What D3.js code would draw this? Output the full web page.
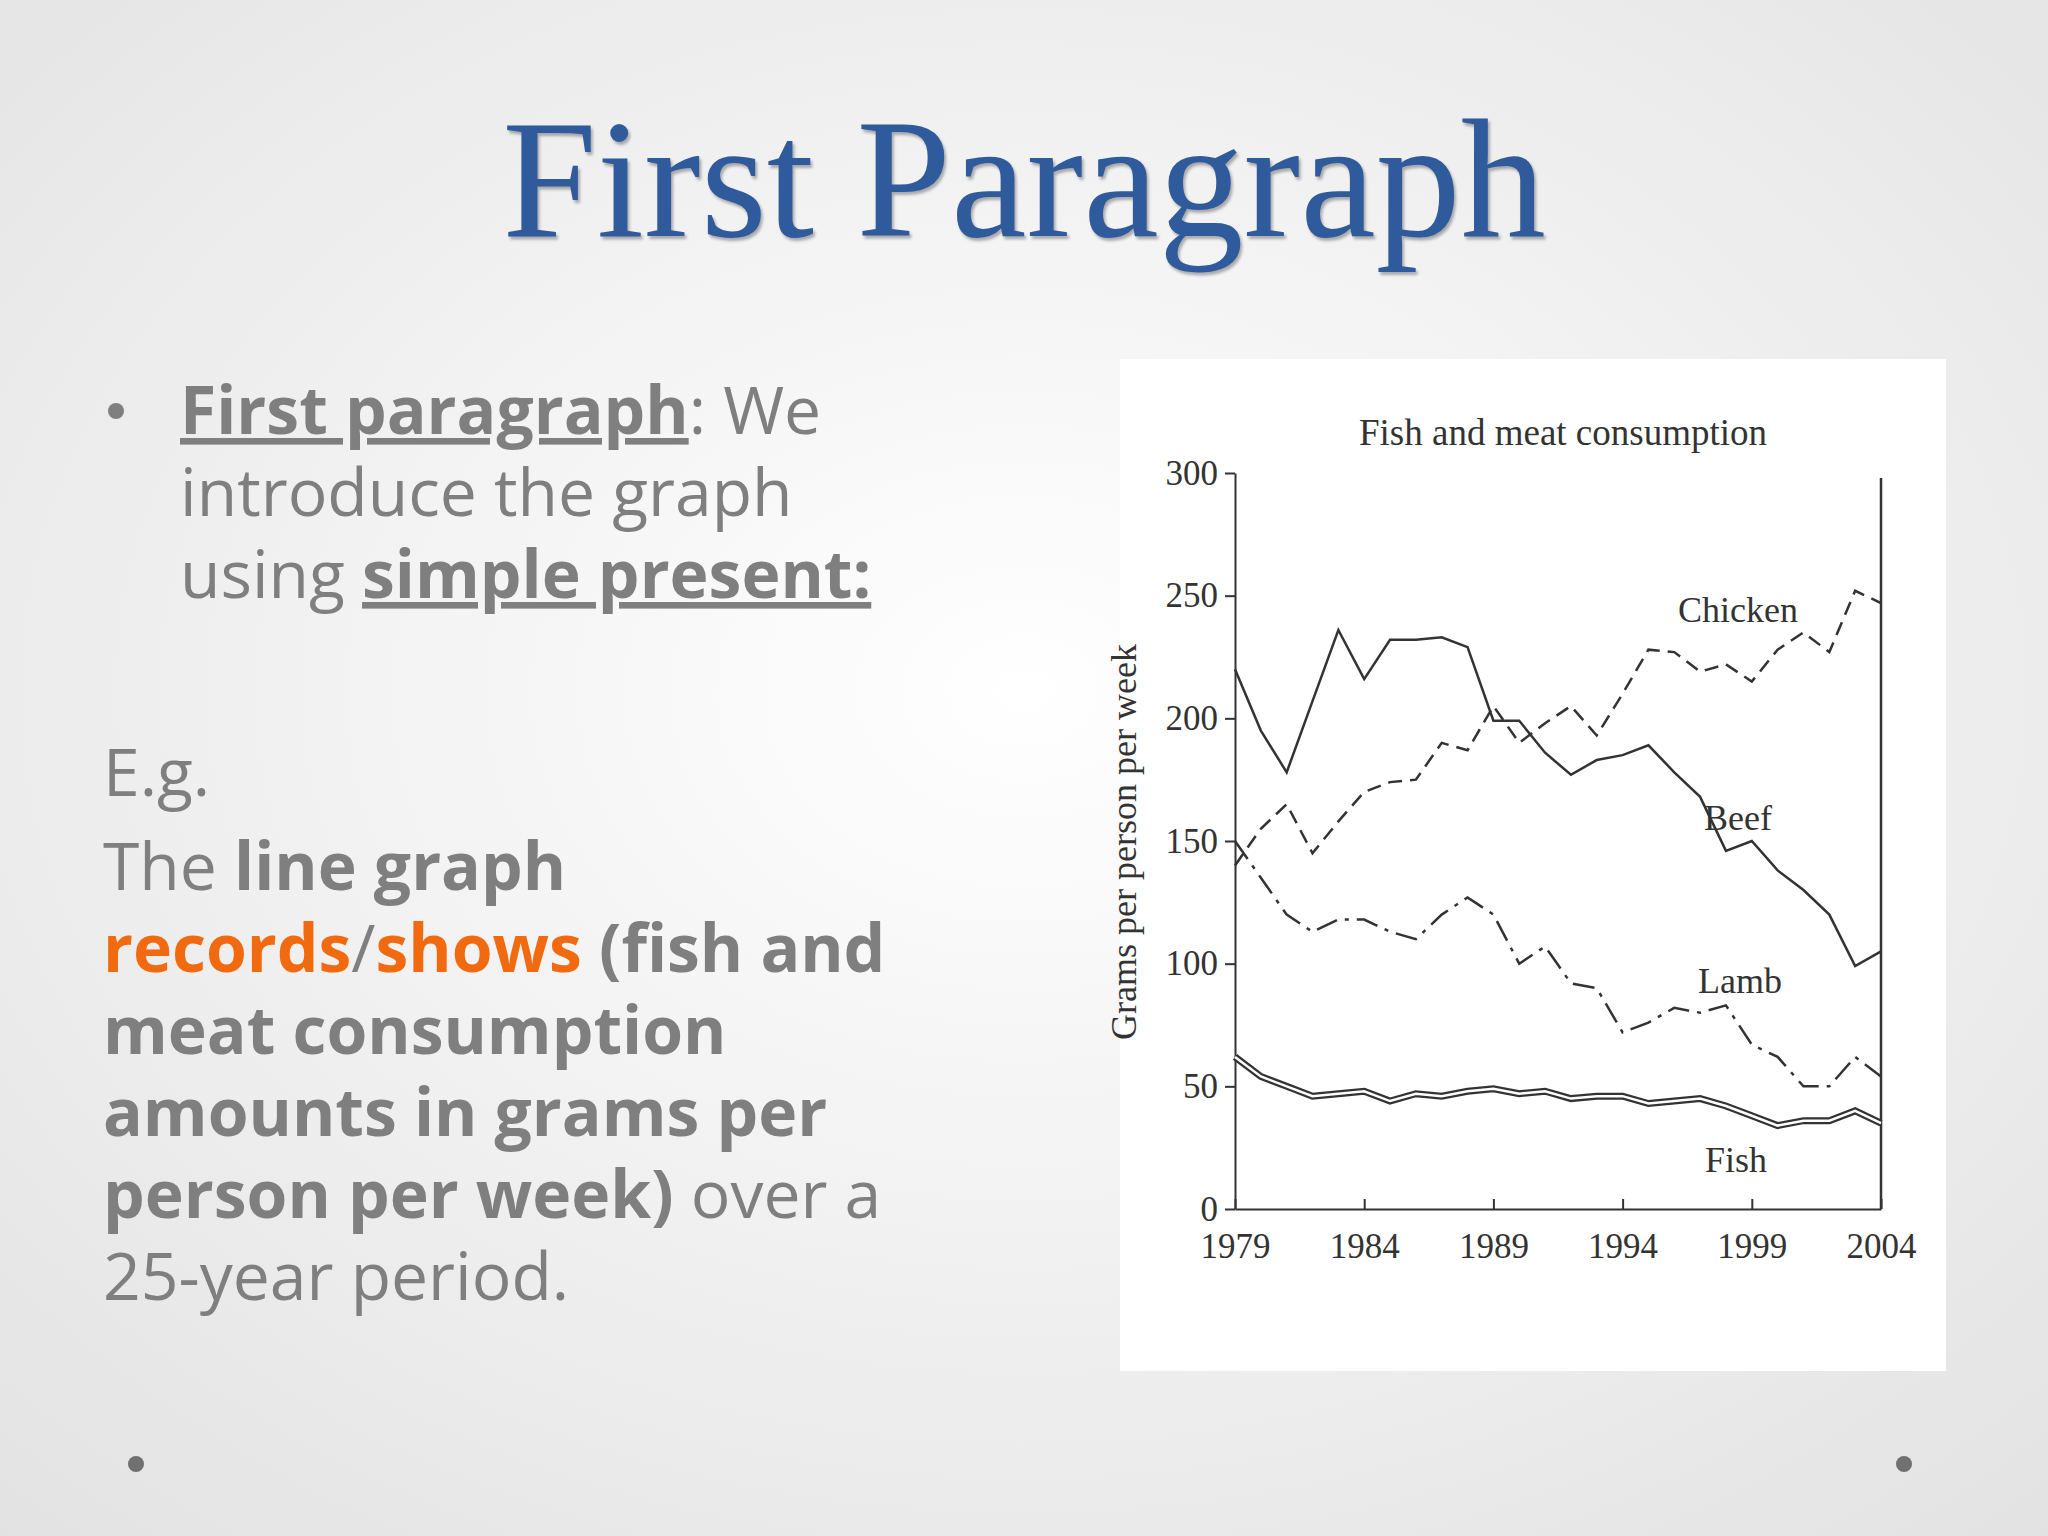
<!DOCTYPE html><html><head><meta charset="utf-8">
<script src="https://cdn.jsdelivr.net/npm/d3@7"></script>
<style>body{margin:0;overflow:hidden}</style></head><body>
<script>
const years=d3.range(1979,2005);
const beef=[220,195,178,207,236,216,232,232,233,229,199,199,186,177,183,185,189,178,168,146,150,138,130,120,99,105];
const chicken=[140,155,165,145,158,170,174,175,190,187,205,190,198,205,193,210,228,227,219,222,215,228,235,227,252,247];
const lamb=[150,135,120,113,118,118,113,110,120,127,120,100,107,92,90,72,76,82,80,83,67,62,50,50,62,54];
const fish=[62,54,50,46,47,48,44,47,46,48,49,47,48,45,46,46,43,44,45,42,38,34,36,36,40,35];
const yTicks=[0,50,100,150,200,250,300];
const xTicks=[1979,1984,1989,1994,1999,2004];

const W=2048,H=1536;
const svg=d3.select("body").append("svg").attr("width",W).attr("height",H);
const defs=svg.append("defs");
const g=defs.append("radialGradient").attr("id","bg").attr("cx","50%").attr("cy","45%").attr("r","75%");
g.append("stop").attr("offset","0%").attr("stop-color","#ffffff");
g.append("stop").attr("offset","100%").attr("stop-color","#e2e2e2");
svg.append("rect").attr("width",W).attr("height",H).attr("fill","url(#bg)");

svg.append("text").attr("x",1024).attr("y",236).attr("text-anchor","middle")
 .attr("font-family","Liberation Serif").attr("font-size",170).attr("fill","#2f5b9c")
 .style("text-shadow","2px 3px 3px rgba(0,0,0,0.3)").text("First Paragraph");

const lf="Open Sans";
function line(y,parts,x){const t=svg.append("text").attr("x",x).attr("y",y).attr("font-family",lf).attr("font-size",66).attr("fill","#7f7f7f");
 parts.forEach(p=>{const s=t.append("tspan").text(p[0]);if(p[1])s.attr("font-weight","bold");if(p[2])s.attr("text-decoration","underline");if(p[3])s.attr("fill",p[3]);});}
svg.append("circle").attr("cx",116).attr("cy",411).attr("r",8).attr("fill","#7f7f7f");
line(434,[["First paragraph",1,1],[": We"]],180);
line(516,[["introduce the graph"]],180);
line(598,[["using "],["simple present:",1,1]],180);
line(796,[["E.g."]],103);
line(890,[["The "],["line graph",1]],103);
line(972,[["records",1,0,"#f26a10"],["/"],["shows",1,0,"#f26a10"],[" (fish and",1]],103);
line(1054,[["meat consumption",1]],103);
line(1136,[["amounts in grams per",1]],103);
line(1218,[["person per week)",1],[" over a"]],103);
line(1300,[["25-year period."]],103);
[136,1904].forEach(x=>svg.append("circle").attr("cx",x).attr("cy",1464).attr("r",8).attr("fill","#707070"));

svg.append("rect").attr("x",1120).attr("y",359).attr("width",826).attr("height",1012).attr("fill","#fff");
const x=d3.scaleLinear().domain([1979,2004]).range([1235,1881]);
const y=d3.scaleLinear().domain([0,300]).range([1209,473]);
const ink="#333",tf="Liberation Serif";
const ya=svg.append("g").attr("transform","translate(1235,0)").call(d3.axisLeft(y).tickValues(yTicks).tickSize(10).tickSizeOuter(0));
const xa=svg.append("g").attr("transform","translate(0,1209)").call(d3.axisBottom(x).tickValues(xTicks).tickFormat(d3.format("d")).tickSize(-10).tickSizeOuter(0));
[ya,xa].forEach(a=>{a.selectAll("path,line").attr("stroke",ink).attr("stroke-width",2);a.selectAll("text").attr("font-family",tf).attr("font-size",35).attr("fill",ink);});
ya.selectAll("text").attr("dx",-4);
xa.selectAll("text").attr("dy",46);
svg.append("line").attr("x1",x(2004)).attr("x2",x(2004)).attr("y1",y(298)).attr("y2",y(0)).attr("stroke",ink).attr("stroke-width",2.5);
svg.append("text").attr("x",1563).attr("y",445).attr("text-anchor","middle").attr("font-family",tf).attr("font-size",37).attr("fill",ink).text("Fish and meat consumption");
svg.append("text").attr("transform","translate(1136,842) rotate(-90)").attr("text-anchor","middle").attr("font-family",tf).attr("font-size",36).attr("fill",ink).text("Grams per person per week");
const ln=d3.line().x((d,i)=>x(years[i])).y(d=>y(d));
svg.append("path").attr("d",ln(beef)).attr("fill","none").attr("stroke",ink).attr("stroke-width",2.5);
svg.append("path").attr("d",ln(chicken)).attr("fill","none").attr("stroke",ink).attr("stroke-width",2.5).attr("stroke-dasharray","14,8");
svg.append("path").attr("d",ln(lamb)).attr("fill","none").attr("stroke",ink).attr("stroke-width",2.5).attr("stroke-dasharray","22,8,4,8");
svg.append("path").attr("d",ln(fish)).attr("fill","none").attr("stroke",ink).attr("stroke-width",7);
svg.append("path").attr("d",ln(fish)).attr("fill","none").attr("stroke","#fff").attr("stroke-width",2.5);
[["Chicken",1738,622],["Beef",1738,830],["Lamb",1740,993],["Fish",1736,1172]].forEach(d=>
 svg.append("text").attr("x",d[1]).attr("y",d[2]).attr("text-anchor","middle").attr("font-family",tf).attr("font-size",36).attr("fill",ink).text(d[0]));
</script></body></html>
